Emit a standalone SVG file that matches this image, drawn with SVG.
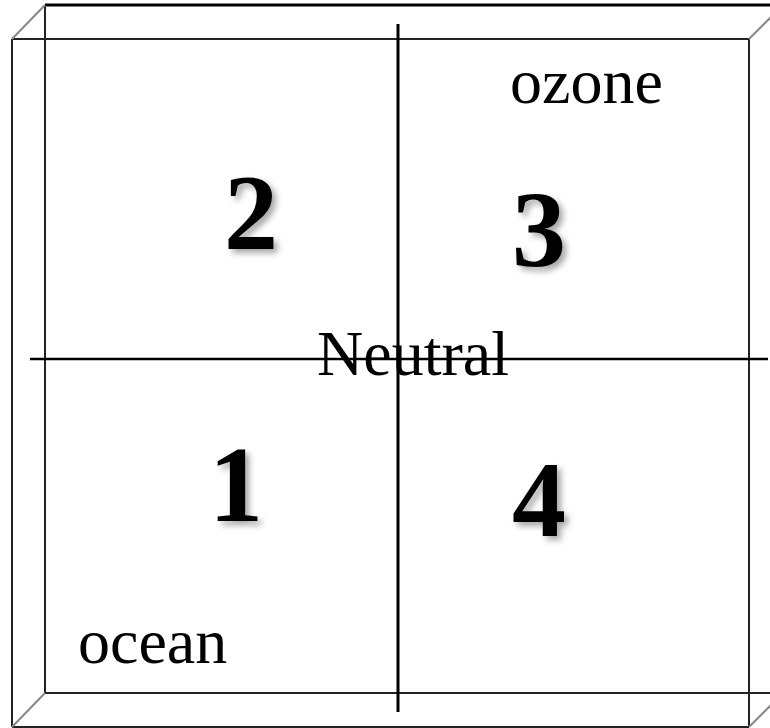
<svg xmlns="http://www.w3.org/2000/svg" width="770" height="728" viewBox="0 0 770 728">
<style>
.edge{stroke:#222;stroke-width:2;fill:none}
.diag{stroke:#888;stroke-width:2;fill:none}
.axis{stroke:#000;stroke-width:3;fill:none}
.haxis{stroke:#000;stroke-width:2.5;fill:none}
.lbl{font-family:"Liberation Serif","Times New Roman",serif;font-size:64px;fill:#000}
.num{font-family:"Liberation Serif","Times New Roman",serif;font-size:108px;font-weight:bold;fill:#000;text-anchor:middle;filter:url(#sh)}
</style>
<defs>
<filter id="sh" x="-30%" y="-30%" width="160%" height="160%">
<feDropShadow dx="4" dy="4" stdDeviation="3" flood-color="#000" flood-opacity="0.35"/>
</filter>
</defs>
<rect width="770" height="728" fill="#fff"/>
<g id="box">
<line class="axis" x1="45" y1="5" x2="770" y2="5"/>
<line class="edge" x1="45" y1="5" x2="45" y2="693"/>
<line class="edge" x1="45" y1="693" x2="770" y2="693"/>
<line class="edge" x1="12" y1="39" x2="749" y2="39"/>
<line class="edge" x1="12" y1="39" x2="12" y2="727"/>
<line class="edge" x1="12" y1="727" x2="749" y2="727"/>
<line class="edge" x1="749" y1="39" x2="749" y2="727"/>
<line class="diag" x1="12" y1="39" x2="45" y2="5"/>
<line class="diag" x1="12" y1="727" x2="45" y2="693"/>
<line class="diag" x1="749" y1="39" x2="772" y2="16"/>
<line class="diag" x1="749" y1="727" x2="772" y2="704"/>
</g>
<g id="connectors">
<line class="axis" x1="398" y1="24" x2="398" y2="712"/>
<line class="haxis" x1="30" y1="359" x2="768" y2="359"/>
</g>
<g id="q2"><text class="num" x="251" y="249">2</text></g>
<g id="q3"><text class="num" x="539" y="266">3</text></g>
<g id="q1"><text class="num" x="236" y="521">1</text></g>
<g id="q4"><text class="num" x="539" y="536">4</text></g>
<g id="ozone"><text class="lbl" x="510" y="103">ozone</text></g>
<g id="ocean"><text class="lbl" x="78" y="663">ocean</text></g>
<g id="neutral"><text class="lbl" x="317" y="375">Neutral</text></g>
</svg>
